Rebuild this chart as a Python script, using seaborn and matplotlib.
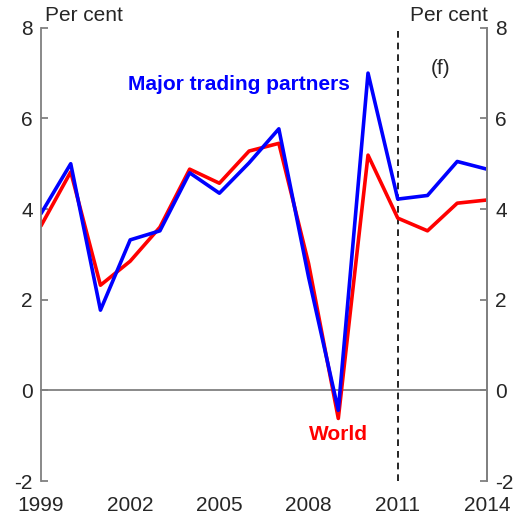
import pandas as pd
import matplotlib
matplotlib.use("Agg")
import matplotlib.pyplot as plt
import seaborn as sns

sns.set_style("white")
plt.rcParams['font.family'] = ['Liberation Sans', 'DejaVu Sans']
plt.rcParams['axes.unicode_minus'] = False

# -----------------------------
# Data
# -----------------------------
years = list(range(1999, 2015))
major_partners = [3.9, 5.0, 1.77, 3.32, 3.52, 4.8, 4.35, 5.02, 5.77, 2.5,
                  -0.44, 7.0, 4.22, 4.3, 5.05, 4.88]
world = [3.63, 4.82, 2.32, 2.85, 3.6, 4.88, 4.57, 5.28, 5.45, 2.8,
         -0.62, 5.19, 3.8, 3.52, 4.13, 4.2]
x_ticks = [1999, 2002, 2005, 2008, 2011, 2014]
y_ticks = [-2, 0, 2, 4, 6, 8]

df = pd.DataFrame({"Year": years * 2,
                   "Growth": world + major_partners,
                   "Series": ["World"] * len(years) + ["Major trading partners"] * len(years)})

grey = "#808080"
fs = 15

fig = plt.figure(figsize=(5.29, 5.18), dpi=100)
ax = fig.add_axes([0.0775, 0.0714, 0.843, 0.875])

sns.lineplot(data=df, x="Year", y="Growth", hue="Series",
             palette={"World": "#ff0000", "Major trading partners": "#0000ff"},
             hue_order=["World", "Major trading partners"],
             linewidth=2.6, legend=False, ax=ax)

ax.set_xlim(1999, 2014)
ax.set_ylim(-2, 8)
ax.set_xlabel("")
ax.set_ylabel("")

# forecast divider
ax.axvline(2011, color="black", linestyle=(0, (4, 3)), linewidth=1.2, ymax=0.995, zorder=1)

# spines
ax.spines["top"].set_visible(False)
ax.spines["bottom"].set_position(("data", 0))
for s in ["left", "right", "bottom"]:
    ax.spines[s].set_color(grey)
    ax.spines[s].set_linewidth(1.3)
ax.spines["bottom"].set_zorder(0)

ax.set_xticks(x_ticks)
ax.set_xticklabels([str(t) for t in x_ticks])
ax.tick_params(axis="x", direction="inout", length=10, width=1.3, color=grey,
               pad=71, labelsize=fs)

ax.set_yticks(y_ticks)
ax.tick_params(axis="y", direction="in", length=5, width=1.3, color=grey,
               labelsize=fs, pad=6)

ax2 = ax.twinx()
ax2.set_ylim(-2, 8)
ax2.set_yticks(y_ticks)
ax2.tick_params(axis="y", direction="in", length=5, width=1.3, color=grey,
                labelsize=fs, pad=6)
for s in ["top", "bottom", "left"]:
    ax2.spines[s].set_visible(False)
ax2.spines["right"].set_color(grey)
ax2.spines["right"].set_linewidth(1.3)

# labels
fig.text(0.085, 0.97, "Per cent", fontsize=fs, ha="left", va="center")
fig.text(0.922, 0.97, "Per cent", fontsize=fs, ha="right", va="center")
ax.text(2012.45, 7.1, "(f)", fontsize=fs, ha="center", va="center")
ax.text(2005.65, 6.75, "Major trading partners", fontsize=fs, fontweight="bold",
        color="#0000ff", ha="center", va="center")
ax.text(2009.0, -0.98, "World", fontsize=fs, fontweight="bold",
        color="#ff0000", ha="center", va="center")

fig.savefig("out.png", dpi=100)
